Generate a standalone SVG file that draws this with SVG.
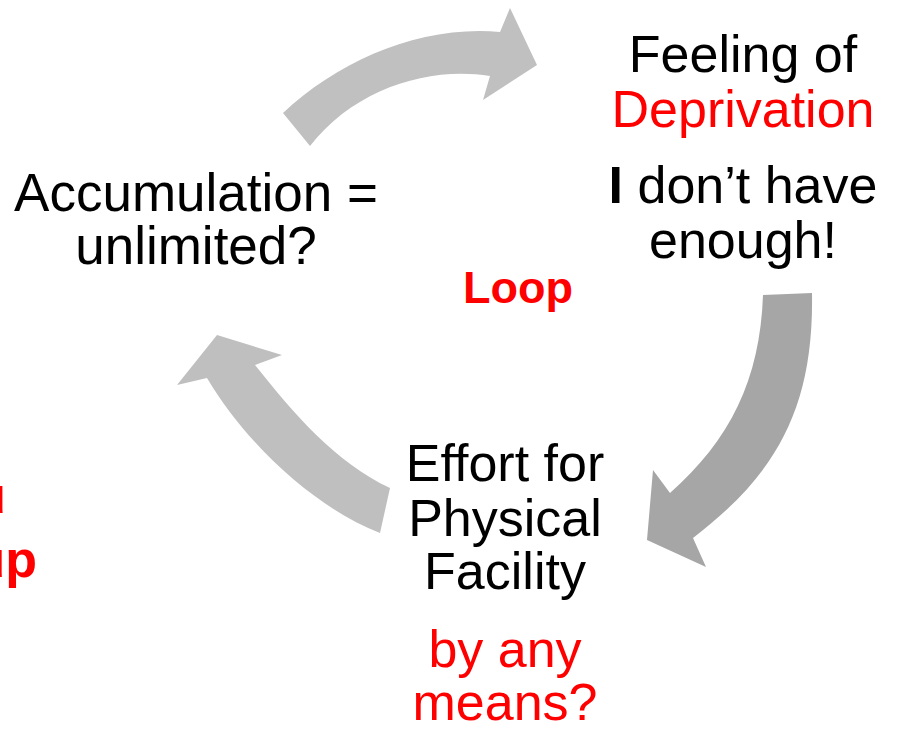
<svg xmlns="http://www.w3.org/2000/svg" width="897" height="735" viewBox="0 0 897 735">
<style>
.t{font-family:"Liberation Sans",Arial,sans-serif;font-size:52px;text-anchor:middle;fill:#000}
.r{fill:#ff0000}
.b{font-weight:bold}
.e{font-family:"Liberation Sans",Arial,sans-serif;font-size:52px;font-weight:bold;fill:#ff0000;text-anchor:end}
</style>
<rect width="897" height="735" fill="#ffffff"/>
<g id="connectors">
<path id="arrow-top" fill="#c0c0c0" d="M283,113 C340,60 420,25 500,32 L510,8 L537,65 L483,100 L490,76 C430,66 355,88 310,146 Z"/>
<path id="arrow-right" fill="#a6a6a6" d="M763,295 L812,293 C814,410 775,475 693,538 L706,567 L647,540 L653,470 L670,493 C730,440 760,380 763,295 Z"/>
<path id="arrow-left" fill="#bfbfbf" d="M380,533 C320,510 250,450 207,378 L177,385 L217,335 L282,355 L255,365 C295,415 335,462 390,488 Z"/>
</g>
<g id="node-deprivation">
<text class="t" x="743" y="72">Feeling of</text>
<text class="t r" x="743" y="127">Deprivation</text>
<text class="t" x="743" y="203"><tspan class="b">I</tspan> don’t have</text>
<text class="t" x="743" y="258">enough!</text>
</g>
<g id="node-effort">
<text class="t" x="505" y="481">Effort for</text>
<text class="t" x="505" y="536">Physical</text>
<text class="t" x="505" y="589">Facility</text>
<text class="t r" x="505" y="667">by any</text>
<text class="t r" x="505" y="720">means?</text>
</g>
<g id="node-accumulation">
<text class="t" x="196" y="211" style="font-size:53px">Accumulation =</text>
<text class="t" x="196" y="264" style="font-size:53px">unlimited?</text>
</g>
<g id="label-loop">
<text class="t b r" x="518" y="303" style="font-size:45px">Loop</text>
</g>
<g id="label-left-cut">
<text class="e" x="6" y="513">u</text>
<text class="e" x="37" y="577">up</text>
</g>
</svg>
